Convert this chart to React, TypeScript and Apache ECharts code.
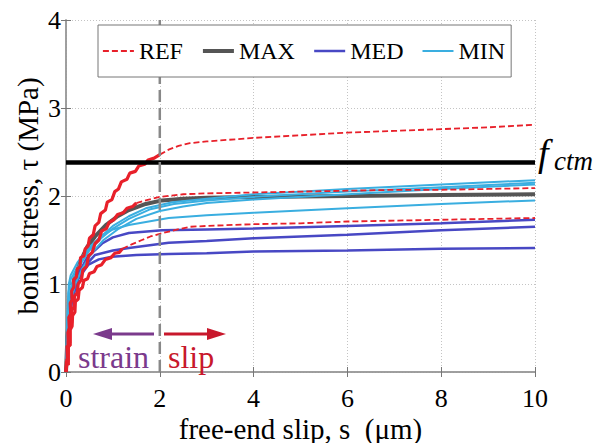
import React, { useEffect, useRef } from "react";
import * as echarts from "echarts";

// ---- data ----
const xTicks = [0, 2, 4, 6, 8, 10];
const yTicks = [0, 1, 2, 3, 4];
const fctm = 2.38;
const divider = 2;

// REF (three tests): noisy early part + smooth dashed remainder
const ref1Noisy = [[0,0],[0.01,0.12],[0.03,0.08],[0.02,0.3],[0.05,0.28],[0.04,0.45],[0.07,0.5],[0.06,0.62],[0.1,0.66],[0.09,0.78],[0.13,0.82],[0.12,0.92],[0.17,0.97],[0.16,1.05],[0.22,1.08],[0.24,1.17],[0.3,1.2],[0.31,1.3],[0.38,1.32],[0.41,1.4],[0.47,1.43],[0.5,1.52],[0.58,1.56],[0.62,1.66],[0.7,1.7],[0.74,1.8],[0.84,1.84],[0.88,1.93],[0.98,1.96],[1.04,2.05],[1.12,2.08],[1.18,2.16],[1.3,2.19],[1.36,2.26],[1.48,2.28],[1.55,2.34],[1.68,2.36],[1.75,2.41],[1.88,2.43],[2.0,2.47]];
const ref1 = [[2.0,2.47],[2.2,2.53],[2.4,2.57],[2.64,2.6],[3,2.62],[4,2.66],[5,2.69],[6,2.72],[7,2.74],[8,2.76],[9,2.78],[10,2.81]];
const ref2Noisy = [[0,0],[0.02,0.15],[0.04,0.12],[0.05,0.35],[0.08,0.33],[0.08,0.52],[0.12,0.56],[0.12,0.7],[0.17,0.74],[0.18,0.86],[0.24,0.9],[0.26,1.0],[0.33,1.05],[0.36,1.16],[0.44,1.2],[0.48,1.32],[0.56,1.36],[0.62,1.46],[0.7,1.5],[0.76,1.6],[0.86,1.63],[0.92,1.7],[1.02,1.73],[1.1,1.79],[1.22,1.81],[1.3,1.86],[1.42,1.88],[1.5,1.92]];
const ref2 = [[1.5,1.92],[1.7,1.95],[2,1.99],[2.5,2.02],[3,2.03],[4,2.04],[5,2.05],[6,2.06],[7,2.07],[8,2.07],[9,2.08],[10,2.09]];
const ref3Noisy = [[0,0],[0.02,0.1],[0.05,0.08],[0.05,0.3],[0.09,0.3],[0.09,0.48],[0.13,0.52],[0.14,0.64],[0.19,0.68],[0.2,0.8],[0.26,0.83],[0.28,0.93],[0.35,0.96],[0.38,1.04],[0.46,1.06],[0.5,1.12],[0.6,1.14],[0.66,1.2],[0.76,1.22],[0.84,1.28],[0.96,1.3],[1.04,1.35],[1.14,1.36],[1.2,1.4]];
const ref3 = [[1.2,1.4],[1.4,1.45],[1.62,1.5],[1.8,1.54],[2,1.57],[2.3,1.61],[2.64,1.65],[3,1.66],[4,1.68],[5,1.69],[6,1.71],[7,1.72],[8,1.73],[9,1.74],[10,1.75]];

const max1 = [[0,0],[0.03,0.4],[0.08,0.75],[0.15,1.0],[0.3,1.25],[0.45,1.42],[0.62,1.54],[0.85,1.67],[1.1,1.77],[1.34,1.84],[1.7,1.91],[2.05,1.95],[2.5,1.97],[3,1.98],[4,1.99],[6,2.0],[8,2.01],[10,2.02]];

const med1 = [[0,0],[0.05,0.5],[0.12,0.85],[0.25,1.1],[0.45,1.3],[0.77,1.46],[1.0,1.53],[1.34,1.58],[2.05,1.61],[3,1.62],[4,1.63],[6,1.66],[8,1.69],[10,1.73]];
const med2 = [[0,0],[0.05,0.45],[0.12,0.8],[0.25,1.05],[0.4,1.2],[0.62,1.33],[1.0,1.38],[1.34,1.41],[2.19,1.47],[3,1.49],[4,1.52],[6,1.56],[8,1.61],[10,1.65]];
const med3 = [[0,0],[0.05,0.45],[0.12,0.8],[0.25,1.05],[0.48,1.22],[0.7,1.28],[0.98,1.31],[1.5,1.33],[2.19,1.34],[3,1.35],[4,1.37],[6,1.38],[8,1.4],[10,1.41]];

const min1 = [[0,0],[0.02,0.5],[0.05,0.9],[0.1,1.05],[0.2,1.15],[0.35,1.28],[0.5,1.4],[0.7,1.52],[1.0,1.66],[1.34,1.77],[1.7,1.86],[2.27,1.93],[3,1.97],[4,2.02],[6,2.08],[8,2.13],[10,2.18]];
const min2 = [[0,0],[0.03,0.5],[0.07,0.85],[0.15,1.05],[0.3,1.22],[0.5,1.38],[0.75,1.52],[1.0,1.63],[1.34,1.74],[1.8,1.85],[2.3,1.91],[3,1.95],[4,1.99],[6,2.05],[8,2.1],[10,2.15]];
const min3 = [[0,0],[0.04,0.45],[0.1,0.8],[0.2,1.0],[0.35,1.18],[0.55,1.35],[0.8,1.5],[1.1,1.62],[1.5,1.74],[2,1.83],[2.5,1.88],[3,1.92],[4,1.96],[6,2.02],[8,2.08],[10,2.13]];
const min4 = [[0,0],[0.03,0.6],[0.06,1.0],[0.1,1.1],[0.25,1.25],[0.5,1.42],[0.77,1.55],[1.0,1.62],[1.34,1.67],[2.19,1.75],[3,1.78],[4,1.81],[6,1.86],[8,1.91],[10,1.95]];

const legendNames = ["REF", "MAX", "MED", "MIN"];

const RED = "#e8202a";
const GRAY = "#555555";
const BLUE = "#4848c4";
const CYAN = "#3aaee0";
const SERIF = "Times New Roman";

function line(name: string, data: number[][], color: string, width: number, type: any = "solid", z = 2) {
  return {
    type: "line",
    name,
    data,
    symbol: "none",
    showSymbol: false,
    z,
    lineStyle: { color, width, type },
    itemStyle: { color },
    emphasis: { disabled: true },
  };
}

export default function App() {
  const ref = useRef<HTMLDivElement>(null);
  useEffect(() => {
    const chart = echarts.init(ref.current!, null, { renderer: "svg" });
    const axisCommon = {
      type: "value",
      axisLine: { show: true, lineStyle: { color: "#999", width: 1.5 } },
      axisTick: { show: true, inside: true, length: 5, lineStyle: { color: "#777" } },
    };
    const widths: Record<string, number> = { REF: 1.8, MAX: 4, MED: 2.5, MIN: 2 };
    const option: any = {
      animation: false,
      backgroundColor: "#fff",
      textStyle: { fontFamily: SERIF },
      grid: { left: 66, right: 58, top: 20, bottom: 71, containLabel: false, outerBoundsMode: "none" },
      legend: {
        data: legendNames.map((n) => ({ name: n, lineStyle: { width: widths[n] } })),
        left: 98,
        top: 25,
        z: 10,
        backgroundColor: "#fff",
        borderColor: "#777",
        borderWidth: 1,
        borderRadius: 0,
        padding: [14, 6, 14, 4],
        itemGap: 18,
        itemWidth: 31,
        itemHeight: 12,
        selectedMode: false,
        itemStyle: { opacity: 0 },
        textStyle: { fontFamily: SERIF, fontSize: 24, color: "#000" },
      },
      xAxis: [
        {
          ...axisCommon,
          min: xTicks[0],
          max: xTicks[xTicks.length - 1],
          interval: 2,
          name: "free-end slip, s\u00a0 (\u03bcm)",
          nameLocation: "middle",
          nameGap: 42,
          nameMoveOverlap: false,
          nameTextStyle: { fontFamily: SERIF, fontSize: 29, color: "#000" },
          axisLabel: { fontFamily: SERIF, fontSize: 26, color: "#000", margin: 13 },
          splitLine: { show: true, lineStyle: { color: "#c4c4c4", type: [1, 2], width: 1 } },
        },
        {
          ...axisCommon,
          position: "top",
          min: xTicks[0],
          max: xTicks[xTicks.length - 1],
          interval: 2,
          axisLabel: { show: false },
          splitLine: { show: false },
        },
      ],
      yAxis: [
        {
          ...axisCommon,
          min: yTicks[0],
          max: yTicks[yTicks.length - 1],
          interval: 1,
          name: "bond stress, \u03c4 (MPa)",
          nameLocation: "middle",
          nameGap: 24,
          nameMoveOverlap: false,
          nameTextStyle: { fontFamily: SERIF, fontSize: 29, color: "#000" },
          axisLabel: { fontFamily: SERIF, fontSize: 26, color: "#000", margin: 5 },
          splitLine: { show: true, lineStyle: { color: "#c4c4c4", type: [1, 2], width: 1 } },
        },
        {
          ...axisCommon,
          position: "right",
          min: yTicks[0],
          max: yTicks[yTicks.length - 1],
          interval: 1,
          axisLabel: { show: false },
          splitLine: { show: false },
        },
      ],
      series: [
        line("REF", ref1, RED, 1.8, [6, 3], 6),
        line("REF", ref2, RED, 1.8, [6, 3], 6),
        line("REF", ref3, RED, 1.8, [6, 3], 6),
        line("MAX", max1, GRAY, 4, "solid", 2),
        line("MED", med1, BLUE, 2.5, "solid", 3),
        line("MED", med2, BLUE, 2.5, "solid", 3),
        line("MED", med3, BLUE, 2.5, "solid", 3),
        line("MIN", min1, CYAN, 2, "solid", 4),
        line("MIN", min2, CYAN, 2, "solid", 4),
        line("MIN", min3, CYAN, 2, "solid", 4),
        line("MIN", min4, CYAN, 2, "solid", 4),
        line("REFnoisy", ref1Noisy, RED, 3.2, "solid", 6),
        line("REFnoisy", ref2Noisy, RED, 3.2, "solid", 6),
        line("REFnoisy", ref3Noisy, RED, 3.2, "solid", 6),
        line("fctm", [[xTicks[0], fctm], [xTicks[xTicks.length - 1], fctm]], "#000", 4.5, "solid", 7),
        line("divider", [[divider, yTicks[0]], [divider, yTicks[yTicks.length - 1]]], "#888", 2.5, [12, 6], 8),
      ],
      graphic: [
        { type: "text", x: 538, y: 153, z: 20, style: { text: "f", fontFamily: SERIF, fontSize: 38, fontStyle: "italic", fill: "#000", verticalAlign: "middle", align: "left" } },
        { type: "text", x: 554, y: 161, z: 20, style: { text: "ctm", fontFamily: SERIF, fontSize: 27, fontStyle: "italic", fill: "#000", verticalAlign: "middle", align: "left" } },
        { type: "line", z: 20, shape: { x1: 154, y1: 334, x2: 104, y2: 334 }, style: { stroke: "#7b3a8c", lineWidth: 3 } },
        { type: "polygon", z: 20, shape: { points: [[93, 334], [112, 328], [112, 340]] }, style: { fill: "#7b3a8c" } },
        { type: "line", z: 20, shape: { x1: 164, y1: 334, x2: 214, y2: 334 }, style: { stroke: "#c8182c", lineWidth: 3 } },
        { type: "polygon", z: 20, shape: { points: [[226, 334], [207, 328], [207, 340]] }, style: { fill: "#c8182c" } },
        { type: "text", x: 78, y: 357, z: 20, style: { text: "strain", fontFamily: SERIF, fontSize: 32, fill: "#7b3a8c", verticalAlign: "middle", align: "left" } },
        { type: "text", x: 168, y: 357, z: 20, style: { text: "slip", fontFamily: SERIF, fontSize: 32, fill: "#c8182c", verticalAlign: "middle", align: "left" } },
      ],
    };
    chart.setOption(option);
    return () => chart.dispose();
  }, []);
  return <div ref={ref} style={{ position: "fixed", left: 0, top: 0, width: 593, height: 443, background: "#fff" }} />;
}
